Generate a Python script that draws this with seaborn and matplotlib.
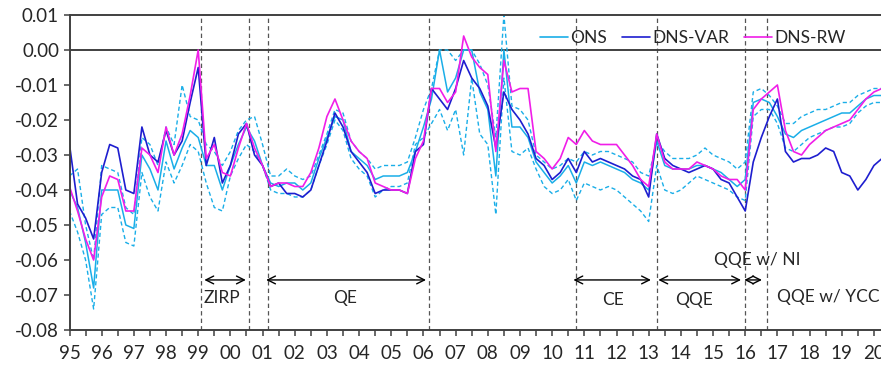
import matplotlib
matplotlib.use('Agg')
import matplotlib.pyplot as plt
import numpy as np
import seaborn as sns
from matplotlib import ticker
from matplotlib.lines import Line2D

# quarterly observations, 1995Q1 .. 2020Q2
dates = 1995 + 0.25 * np.arange(102)

dns_var = [
    -0.027, -0.044, -0.048, -0.054, -0.035, -0.027, -0.028, -0.040,
    -0.041, -0.022, -0.030, -0.032, -0.023, -0.030, -0.026, -0.015,
    -0.005, -0.033, -0.025, -0.038, -0.033, -0.024, -0.021, -0.030,
    -0.033, -0.039, -0.038, -0.041, -0.041, -0.042, -0.040, -0.033,
    -0.026, -0.018, -0.022, -0.029, -0.032, -0.035, -0.041, -0.040,
    -0.040, -0.040, -0.041, -0.029, -0.027, -0.011, -0.014, -0.017,
    -0.011, -0.003, -0.008, -0.011, -0.016, -0.028, -0.012, -0.017,
    -0.020, -0.024, -0.031, -0.033, -0.037, -0.035, -0.031, -0.035,
    -0.029, -0.032, -0.031, -0.032, -0.033, -0.034, -0.036, -0.037,
    -0.042, -0.024, -0.031, -0.033, -0.034, -0.035, -0.034, -0.033,
    -0.034, -0.037, -0.038, -0.042, -0.046, -0.032, -0.025, -0.019,
    -0.014, -0.029, -0.032, -0.031, -0.031, -0.030, -0.028, -0.029,
    -0.035, -0.036, -0.040, -0.037, -0.033, -0.031,
]
dns_rw = [
    -0.039, -0.046, -0.054, -0.060, -0.042, -0.036, -0.037, -0.046,
    -0.046, -0.028, -0.030, -0.035, -0.022, -0.030, -0.024, -0.013,
    0.000, -0.031, -0.027, -0.035, -0.036, -0.028, -0.021, -0.028,
    -0.033, -0.039, -0.038, -0.038, -0.039, -0.039, -0.035, -0.028,
    -0.019, -0.014, -0.020, -0.026, -0.029, -0.031, -0.038, -0.039,
    -0.040, -0.040, -0.041, -0.031, -0.026, -0.011, -0.011, -0.015,
    -0.012, 0.004, -0.002, -0.005, -0.007, -0.029, -0.003, -0.012,
    -0.011, -0.011, -0.029, -0.031, -0.034, -0.031, -0.025, -0.027,
    -0.023, -0.026, -0.027, -0.027, -0.027, -0.030, -0.033, -0.037,
    -0.039, -0.024, -0.032, -0.034, -0.034, -0.034, -0.032, -0.033,
    -0.034, -0.036, -0.037, -0.037, -0.040, -0.017, -0.014, -0.012,
    -0.010, -0.023, -0.029, -0.030, -0.027, -0.025, -0.023, -0.022,
    -0.021, -0.020, -0.017, -0.014, -0.012, -0.011,
]
ons = [
    -0.040, -0.045, -0.055, -0.068, -0.040, -0.040, -0.040, -0.050,
    -0.051, -0.030, -0.034, -0.040, -0.026, -0.034, -0.028, -0.023,
    -0.025, -0.033, -0.033, -0.040, -0.033, -0.027, -0.022, -0.026,
    -0.033, -0.038, -0.039, -0.038, -0.038, -0.040, -0.038, -0.031,
    -0.025, -0.019, -0.020, -0.029, -0.031, -0.033, -0.037, -0.036,
    -0.036, -0.036, -0.035, -0.029, -0.022, -0.014, 0.000, -0.012,
    -0.008, 0.000, 0.000, -0.012, -0.017, -0.036, 0.000, -0.022,
    -0.022, -0.025, -0.032, -0.035, -0.038, -0.036, -0.033, -0.038,
    -0.032, -0.033, -0.032, -0.033, -0.034, -0.035, -0.037, -0.038,
    -0.040, -0.026, -0.033, -0.034, -0.034, -0.034, -0.033, -0.033,
    -0.034, -0.035, -0.037, -0.039, -0.037, -0.015, -0.014, -0.015,
    -0.019, -0.024, -0.025, -0.023, -0.022, -0.021, -0.020, -0.019,
    -0.018, -0.018, -0.016, -0.014, -0.013, -0.013,
]
ons_lo = [
    -0.046, -0.052, -0.060, -0.074, -0.047, -0.045, -0.045, -0.055,
    -0.056, -0.035, -0.042, -0.046, -0.032, -0.038, -0.033, -0.027,
    -0.029, -0.038, -0.045, -0.046, -0.036, -0.031, -0.027, -0.029,
    -0.033, -0.040, -0.041, -0.041, -0.042, -0.042, -0.040, -0.033,
    -0.027, -0.020, -0.023, -0.031, -0.034, -0.036, -0.042, -0.040,
    -0.039, -0.039, -0.038, -0.027, -0.025, -0.021, -0.017, -0.023,
    -0.017, -0.030, -0.008, -0.024, -0.027, -0.047, -0.008, -0.029,
    -0.030, -0.028, -0.034, -0.039, -0.041, -0.040, -0.037, -0.043,
    -0.038, -0.039, -0.040, -0.039, -0.040, -0.042, -0.044, -0.046,
    -0.049, -0.033, -0.040, -0.041, -0.040, -0.038, -0.036, -0.037,
    -0.038, -0.039, -0.040, -0.042, -0.043, -0.019, -0.017, -0.017,
    -0.021, -0.028, -0.029, -0.027, -0.025, -0.024, -0.023, -0.022,
    -0.022, -0.021, -0.018, -0.016, -0.015, -0.015,
]
ons_hi = [
    -0.036, -0.034, -0.050, -0.060, -0.033, -0.034, -0.035, -0.045,
    -0.047, -0.025, -0.027, -0.033, -0.022, -0.027, -0.010, -0.019,
    -0.020, -0.027, -0.029, -0.033, -0.029, -0.023, -0.020, -0.019,
    -0.027, -0.036, -0.036, -0.034, -0.036, -0.037, -0.036, -0.030,
    -0.024, -0.017, -0.018, -0.026, -0.029, -0.031, -0.034, -0.033,
    -0.033, -0.033, -0.032, -0.025, -0.017, -0.011, 0.000, 0.000,
    -0.003, 0.000, 0.000, -0.004, -0.010, -0.025, 0.010, -0.016,
    -0.017, -0.020, -0.030, -0.032, -0.034, -0.033, -0.031, -0.032,
    -0.029, -0.030, -0.029, -0.029, -0.030, -0.031, -0.032, -0.035,
    -0.036, -0.026, -0.029, -0.031, -0.031, -0.031, -0.030, -0.028,
    -0.030, -0.031, -0.032, -0.034, -0.032, -0.012, -0.011, -0.013,
    -0.016, -0.021, -0.021, -0.019, -0.018, -0.017, -0.017, -0.016,
    -0.015, -0.015, -0.013, -0.012, -0.011, -0.011,
]

# policy regime boundaries and labels
regime_lines = [1999.08, 2000.58, 2001.17, 2006.17, 2010.75, 2013.25, 2016.0, 2016.67]
regime_names = ['ZIRP', 'QE', 'CE', 'QQE', 'QQE w/ NI', 'QQE w/ YCC']
arrow_spans = [(1999.19, 2000.48), (2001.11, 2006.08), (2010.66, 2013.07),
               (2013.30, 2015.87), (2015.97, 2016.52), (2016.63, 2021.0)]
name_pos = [(1999.75, -0.0709), (2003.55, -0.0709), (2011.88, -0.0714),
            (2014.42, -0.0714), (2016.37, -0.0600), (2018.58, -0.0706)]
arrow_y = -0.0657

year_ticks = list(range(1995, 2021))
year_labels = ['%02d' % (y % 100) for y in year_ticks]
y_ticks = [0.01, 0.00, -0.01, -0.02, -0.03, -0.04, -0.05, -0.06, -0.07, -0.08]
y_labels = ['0.01', '0.00', '-0.01', '-0.02', '-0.03', '-0.04', '-0.05',
            '-0.06', '-0.07', '-0.08']

LIGHT = '#1AAEE8'
DARK = '#1E1ECF'
PINK = '#F01EE8'
AXC = '#404040'

sns.set_style('ticks')
plt.rcParams['font.family'] = ['Lato', 'DejaVu Sans']

fig = plt.figure(figsize=(8.81, 3.67), dpi=100)
ax = fig.add_axes([69.5 / 881, 37 / 367, 811.5 / 881, 315 / 367])

for band in (ons_lo, ons_hi):
    sns.lineplot(x=dates, y=band, ax=ax, color=LIGHT, lw=1.0,
                 linestyle=(0, (3, 2)))
sns.lineplot(x=dates, y=ons, ax=ax, color=LIGHT, lw=1.1)
sns.lineplot(x=dates, y=dns_var, ax=ax, color=DARK, lw=1.2)
sns.lineplot(x=dates, y=dns_rw, ax=ax, color=PINK, lw=1.2)

for xv in regime_lines:
    ax.axvline(xv, color='#555555', lw=0.9, ls=(0, (3.5, 2.5)), zorder=1)
ax.axhline(0, color=AXC, lw=1.4, zorder=1)

for name, (x0, x1), (tx, ty) in zip(regime_names, arrow_spans, name_pos):
    ax.annotate('', xy=(x1, arrow_y), xytext=(x0, arrow_y),
                arrowprops=dict(arrowstyle='<->', color='black', lw=1.0,
                                mutation_scale=14, shrinkA=0, shrinkB=0))
    ax.text(tx, ty, name, ha='center', va='center', fontsize=12.5)

ax.set(xlim=(1995, 2020.22), ylim=(-0.08, 0.01), xlabel='', ylabel='')
ax.xaxis.set_major_locator(ticker.FixedLocator(year_ticks))
ax.xaxis.set_minor_locator(ticker.MultipleLocator(0.5))
ax.set_xticklabels(year_labels)
ax.yaxis.set_major_locator(ticker.FixedLocator(y_ticks))
ax.set_yticklabels(y_labels)
ax.tick_params(axis='both', which='both', direction='out', length=4.5,
               width=1.1, color=AXC, labelsize=13.5)
ax.tick_params(axis='x', pad=6)
ax.tick_params(axis='y', pad=3)
for side in ('left', 'bottom', 'top'):
    ax.spines[side].set_color(AXC)
    ax.spines[side].set_linewidth(1.4)
ax.spines['right'].set_visible(False)

handles = [Line2D([], [], color=LIGHT, lw=1.2),
           Line2D([], [], color=DARK, lw=1.2),
           Line2D([], [], color=PINK, lw=1.2)]
ax.legend(handles, ['ONS', 'DNS-VAR', 'DNS-RW'], loc='center',
          bbox_to_anchor=(0.768, 0.927), ncol=3, frameon=False,
          fontsize=12.5, handlelength=1.6, handletextpad=0.15,
          columnspacing=0.85, borderpad=0)

fig.savefig('out.png', dpi=100)
